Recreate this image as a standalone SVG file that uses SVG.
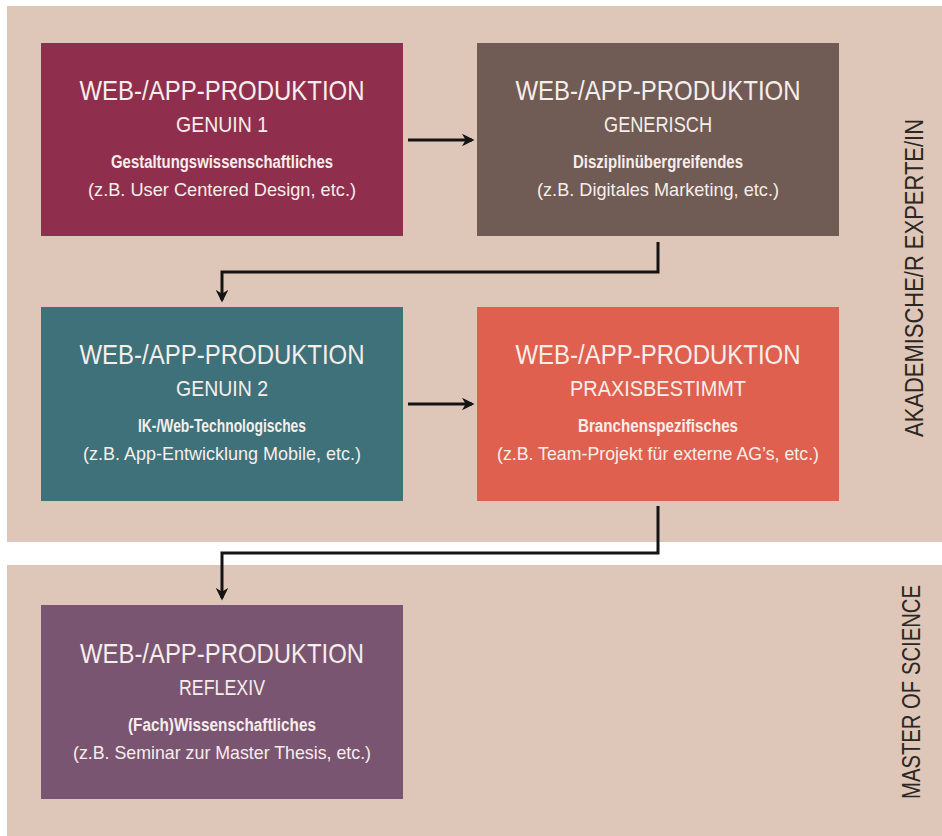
<svg xmlns="http://www.w3.org/2000/svg" width="942" height="836" viewBox="0 0 942 836">
  <defs>
    <style>
      .band { fill: #dec6b8; }
      .t1 { font-family: "Liberation Sans", Arial, sans-serif; font-size: 28px; fill: #f6eeea; text-anchor: middle; }
      .t2 { font-family: "Liberation Sans", Arial, sans-serif; font-size: 22px; fill: #f6eeea; text-anchor: middle; }
      .t3 { font-family: "Liberation Sans", Arial, sans-serif; font-size: 18px; font-weight: bold; fill: #f6eeea; text-anchor: middle; }
      .t4 { font-family: "Liberation Sans", Arial, sans-serif; font-size: 19px; fill: #f6eeea; text-anchor: middle; }
      .side { font-family: "Liberation Sans", Arial, sans-serif; font-size: 26px; fill: #2b2725; text-anchor: middle; }
      .conn { fill: none; stroke: #141414; stroke-width: 3; }
    </style>
    <marker id="arr" viewBox="0 0 10 10" refX="8" refY="5" markerWidth="4.2" markerHeight="4.2" orient="auto" markerUnits="strokeWidth">
      <path d="M0,0 L10,5 L0,10 L3,5 Z" fill="#141414"/>
    </marker>
  </defs>

  <rect width="942" height="836" fill="#ffffff"/>
  <g id="background">
    <rect class="band" x="7" y="6" width="935" height="536"/>
    <rect class="band" x="7" y="565" width="935" height="271"/>
  </g>

  <g id="node-genuin1">
    <rect x="41" y="43" width="362" height="193" fill="#8f2f4d"/>
    <text class="t1" x="222" y="100" textLength="285" lengthAdjust="spacingAndGlyphs">WEB-/APP-PRODUKTION</text>
    <text class="t2" x="222" y="132" textLength="92" lengthAdjust="spacingAndGlyphs">GENUIN 1</text>
    <text class="t3" x="222" y="168" textLength="222" lengthAdjust="spacingAndGlyphs">Gestaltungswissenschaftliches</text>
    <text class="t4" x="222" y="196" textLength="268" lengthAdjust="spacingAndGlyphs">(z.B. User Centered Design, etc.)</text>
  </g>

  <g id="node-generisch">
    <rect x="477" y="43" width="362" height="193" fill="#705b55"/>
    <text class="t1" x="658" y="100" textLength="285" lengthAdjust="spacingAndGlyphs">WEB-/APP-PRODUKTION</text>
    <text class="t2" x="658" y="132" textLength="108" lengthAdjust="spacingAndGlyphs">GENERISCH</text>
    <text class="t3" x="658" y="168" textLength="170" lengthAdjust="spacingAndGlyphs">Disziplinübergreifendes</text>
    <text class="t4" x="658" y="196" textLength="242" lengthAdjust="spacingAndGlyphs">(z.B. Digitales Marketing, etc.)</text>
  </g>

  <g id="node-genuin2">
    <rect x="41" y="307" width="362" height="194" fill="#3e717a"/>
    <text class="t1" x="222" y="364" textLength="285" lengthAdjust="spacingAndGlyphs">WEB-/APP-PRODUKTION</text>
    <text class="t2" x="222" y="396" textLength="92" lengthAdjust="spacingAndGlyphs">GENUIN 2</text>
    <text class="t3" x="222" y="432" textLength="168" lengthAdjust="spacingAndGlyphs">IK-/Web-Technologisches</text>
    <text class="t4" x="222" y="460" textLength="278" lengthAdjust="spacingAndGlyphs">(z.B. App-Entwicklung Mobile, etc.)</text>
  </g>

  <g id="node-praxisbestimmt">
    <rect x="477" y="307" width="362" height="194" fill="#e0604f"/>
    <text class="t1" x="658" y="364" textLength="285" lengthAdjust="spacingAndGlyphs">WEB-/APP-PRODUKTION</text>
    <text class="t2" x="658" y="396" textLength="176" lengthAdjust="spacingAndGlyphs">PRAXISBESTIMMT</text>
    <text class="t3" x="658" y="432" textLength="160" lengthAdjust="spacingAndGlyphs">Branchenspezifisches</text>
    <text class="t4" x="658" y="460" textLength="322" lengthAdjust="spacingAndGlyphs">(z.B. Team-Projekt für externe AG’s, etc.)</text>
  </g>

  <g id="node-reflexiv">
    <rect x="41" y="605" width="362" height="194" fill="#7a5572"/>
    <text class="t1" x="222" y="663" textLength="284" lengthAdjust="spacingAndGlyphs">WEB-/APP-PRODUKTION</text>
    <text class="t2" x="222" y="695" textLength="86" lengthAdjust="spacingAndGlyphs">REFLEXIV</text>
    <text class="t3" x="222" y="731" textLength="188" lengthAdjust="spacingAndGlyphs">(Fach)Wissenschaftliches</text>
    <text class="t4" x="222" y="759" textLength="298" lengthAdjust="spacingAndGlyphs">(z.B. Seminar zur Master Thesis, etc.)</text>
  </g>

  <g id="connectors">
    <path class="conn" d="M408,140 H472" marker-end="url(#arr)"/>
    <path class="conn" d="M658,242 V272 H222 V300" marker-end="url(#arr)"/>
    <path class="conn" d="M408,404 H472" marker-end="url(#arr)"/>
    <path class="conn" d="M658,506 V553 H222 V598" marker-end="url(#arr)"/>
  </g>

  <g id="side-labels">
    <text class="side" transform="translate(923,278) rotate(-90)" textLength="318" lengthAdjust="spacingAndGlyphs">AKADEMISCHE/R EXPERTE/IN</text>
    <text class="side" transform="translate(920,692) rotate(-90)" textLength="214" lengthAdjust="spacingAndGlyphs">MASTER OF SCIENCE</text>
  </g>
</svg>
